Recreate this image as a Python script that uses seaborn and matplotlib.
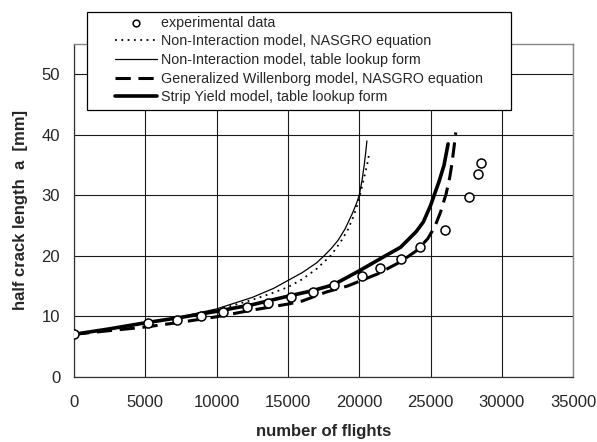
import matplotlib
matplotlib.use("Agg")
import matplotlib.pyplot as plt
from matplotlib.patches import Rectangle
import seaborn as sns

# Measured crack growth
exp_flights = [0, 5200, 7200, 8900, 10450, 12150, 13600, 15250, 16750, 18250,
               20200, 21450, 22950, 24250, 26000, 27700, 28350, 28550]
exp_a = [7.0, 8.9, 9.4, 10.0, 10.7, 11.5, 12.2, 13.1, 14.0, 15.1,
         16.6, 18.0, 19.4, 21.4, 24.3, 29.7, 33.5, 35.3]

# Non-Interaction model, NASGRO equation
ni_nasgro_n = [0, 2500, 5000, 7500, 10000, 12500, 14000, 15000, 16000, 17000,
               18000, 18700, 19200, 19600, 19900, 20100, 20350, 20550, 20700]
ni_nasgro_a = [7.0, 7.8, 8.7, 9.8, 11.0, 12.7, 13.9, 14.8, 16.1, 17.8,
               20.0, 22.3, 24.3, 26.5, 28.6, 30.5, 33.0, 35.0, 36.9]

# Non-Interaction model, table lookup form
ni_table_n = [0, 2500, 5000, 7500, 10000, 12500, 14000, 15000, 16000, 17000,
              17500, 18000, 18500, 19000, 19500, 19800, 20000, 20200, 20350,
              20450, 20540]
ni_table_a = [7.0, 7.8, 8.8, 9.9, 11.2, 13.1, 14.6, 15.9, 17.2, 18.8,
              19.9, 21.1, 22.5, 24.4, 26.9, 28.6, 30.0, 32.5, 35.0, 37.0, 39.0]

# Generalized Willenborg model, NASGRO equation
gw_n = [0, 2500, 5000, 7500, 10000, 12500, 15000, 16000, 17700, 19200, 21300,
        22900, 24000, 24800, 25300, 25700, 26100, 26350, 26500, 26650, 26770]
gw_a = [7.0, 7.6, 8.2, 9.0, 9.9, 11.0, 12.0, 12.5, 14.0, 15.0, 17.0,
        19.0, 20.8, 22.8, 24.8, 27.2, 30.3, 33.0, 35.2, 38.0, 40.4]

# Strip Yield model, table lookup form
sy_n = [0, 2500, 5000, 7500, 10000, 12500, 15000, 16700, 18200, 20000, 21700,
        22900, 24000, 24500, 25000, 25600, 25950, 26230]
sy_a = [7.0, 7.9, 8.9, 9.8, 10.8, 11.9, 13.3, 14.2, 15.2, 17.5, 19.8,
        21.4, 24.0, 25.6, 28.3, 32.3, 35.0, 38.5]

x_ticks = [0, 5000, 10000, 15000, 20000, 25000, 30000, 35000]
y_ticks = [0, 10, 20, 30, 40, 50]

sns.set_style("white")
plt.rcParams["font.family"] = ["Liberation Sans", "DejaVu Sans"]

fig = plt.figure(figsize=(5.97, 4.42), dpi=100)
ax = fig.add_axes([0.124, 0.148, 0.836, 0.752])

ax.grid(True, color="#1a1a1a", linewidth=0.8)
ax.set_axisbelow(True)

sns.scatterplot(x=exp_flights, y=exp_a, ax=ax, marker="o", s=42,
                facecolor="white", edgecolor="black", linewidth=1.1,
                zorder=5, label="experimental data")
sns.lineplot(x=ni_nasgro_n, y=ni_nasgro_a, ax=ax, color="black", linewidth=1.3,
             linestyle=(0, (1, 2.5)), sort=False,
             label="Non-Interaction model, NASGRO equation")
sns.lineplot(x=ni_table_n, y=ni_table_a, ax=ax, color="black", linewidth=0.9,
             sort=False, label="Non-Interaction model, table lookup form")
sns.lineplot(x=gw_n, y=gw_a, ax=ax, color="black", linewidth=2.2,
             linestyle=(0, (5, 2.5)), sort=False,
             label="Generalized Willenborg model, NASGRO equation")
sns.lineplot(x=sy_n, y=sy_a, ax=ax, color="black", linewidth=2.6,
             sort=False, label="Strip Yield model, table lookup form")

ax.set_xlim(0, 35000)
ax.set_ylim(0, 55)
ax.set_xticks(x_ticks)
ax.set_yticks(y_ticks)
ax.set_xticklabels([str(t) for t in x_ticks])
ax.tick_params(axis="both", direction="out", length=4, width=0.8,
               color="#333333", labelsize=12, pad=6)
ax.tick_params(axis="x", pad=9)

for side in ["left", "bottom"]:
    ax.spines[side].set_color("#333333")
    ax.spines[side].set_linewidth(0.9)
for side in ["top", "right"]:
    ax.spines[side].set_color("#888888")
    ax.spines[side].set_linewidth(1.0)
    ax.spines[side].set_visible(True)

ax.set_xlabel("number of flights", fontsize=12, fontweight="bold", labelpad=10)
ax.set_ylabel("half crack length  a  [mm]", fontsize=12, fontweight="bold",
              labelpad=10)

# Legend box: a plain frame with wide side margins, entries placed inside it
W, H = 597.0, 442.0
box_l, box_r, box_t, box_b = 86.7, 511.0, 12.3, 110.0
frame = Rectangle((box_l / W, 1 - box_b / H), (box_r - box_l) / W,
                  (box_b - box_t) / H, transform=fig.transFigure,
                  facecolor="white", edgecolor="black", linewidth=0.9,
                  zorder=8)
fig.patches.append(frame)

handles, labels = ax.get_legend_handles_labels()
ax.get_legend().remove()
leg = fig.legend(handles, labels, loc="upper left",
                 bbox_to_anchor=(115 / W, 1 - 15.5 / H),
                 bbox_transform=fig.transFigure,
                 fontsize=10.3, frameon=False, handlelength=2.95,
                 handletextpad=0.3, labelspacing=0.33, borderpad=0,
                 borderaxespad=0, markerscale=0.75)
leg.set_zorder(10)

fig.savefig("out.png", dpi=100)
